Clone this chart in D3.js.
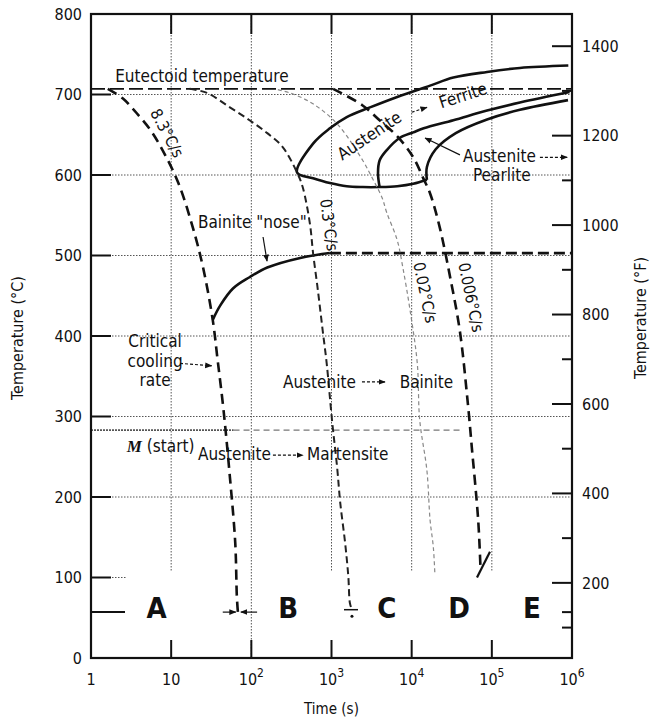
<!DOCTYPE html>
<html>
<head>
<meta charset="utf-8">
<script src="https://cdn.jsdelivr.net/npm/d3@7"></script>
<style>
  body { margin: 0; background: #fff; }
  svg text { font-family: "DejaVu Sans Condensed", "DejaVu Sans", sans-serif; font-stretch: condensed; fill: #111; }
</style>
</head>
<body>
<svg id="chart" width="653" height="722"></svg>
<script>
// ------------------- Data -------------------
// every curve is a list of [time (s), temperature (°C)]
const eutectoidTemp = 707;
const martensiteStart = 283;
const bainiteTemp = 503;

const ferriteUpper = [[900000, 736], [223900, 733], [87100, 728], [33110, 721], [16980, 711], [6607, 697],
  [3020, 684], [1549, 672], [955, 658], [589, 639], [372, 603]];
const ferriteLower = [[372, 603], [589, 596], [955, 590], [1549, 586], [2455, 585], [3981, 585],
  [6607, 586], [10470, 589], [15490, 594]];
const ferriteMiddle = [[3981, 585], [3802, 602], [3981, 618], [4898, 631], [7079, 646], [10470, 653],
  [14125, 658], [33110, 668], [87100, 680], [223900, 690], [933000, 703]];
const pearlite = [[15490, 594], [15490, 610], [19950, 632], [35500, 652], [87100, 669], [223900, 681], [891000, 693]];
const bainiteNose = [[33, 420], [41, 438], [59, 459], [95, 473], [158, 485], [407, 497], [955, 503]];

const cool83 = [[1.62, 707], [2.5, 695], [3.7, 677], [5.5, 656], [7.8, 631], [12.3, 590], [18.6, 535],
  [25, 485], [33, 420], [38, 370], [45, 308], [54, 225], [63, 143], [66, 76], [68, 57]];
const cool03 = [[17, 707], [28, 702], [54, 684], [95, 668], [158, 652], [245, 635], [372, 603], [437, 585],
  [537, 540], [589, 503], [676, 457], [776, 407], [871, 366], [1023, 292], [1175, 237], [1288, 192],
  [1479, 143], [1622, 101], [1698, 68], [1800, 60]];
const cool002 = [[214, 706], [302, 702], [490, 693], [776, 680], [1288, 659], [2455, 618], [3311, 594],
  [4266, 572], [4898, 553], [6607, 519], [7762, 485], [9550, 432], [11750, 366], [12590, 296],
  [15490, 233], [16980, 171], [18620, 138], [19500, 103]];
const cool0006 = [[1047, 707], [2399, 687], [3981, 668], [6761, 647], [10470, 622], [13800, 597],
  [16980, 577], [22390, 535], [30200, 473], [39810, 407], [50120, 317], [56230, 262], [67610, 171],
  [72000, 115]];

const timeTicks = [1, 10, 1e2, 1e3, 1e4, 1e5, 1e6];
const timeTickLabels = ["1", "10", "10^2", "10^3", "10^4", "10^5", "10^6"];
const celsiusTicks = [0, 100, 200, 300, 400, 500, 600, 700, 800];
const fahrenheitTicks = [200, 400, 600, 800, 1000, 1200, 1400];
const fahrenheitMinor = [100, 300, 500, 700, 900, 1100, 1300];
const letterLevel = 57;

const regionLetters = ["A", "B", "C", "D", "E"];
const regionTimes = [6.6, 288, 4900, 38900, 316000];

// ------------------- Setup -------------------
const W = 653, H = 722;
const margin = {top: 14, right: 81, bottom: 64, left: 91};
const svg = d3.select("#chart");

const x = d3.scaleLog().domain([1, 1e6]).range([margin.left, W - margin.right]);
const y = d3.scaleLinear().domain([0, 800]).range([H - margin.bottom, margin.top]);
const yF = d3.scaleLinear().domain([32, 800 * 9 / 5 + 32]).range(y.range());

const line = d3.line()
  .x(d => x(d[0]))
  .y(d => y(d[1]))
  .curve(d3.curveCatmullRom.alpha(0.5));

const defs = svg.append("defs");
defs.append("marker")
  .attr("id", "head")
  .attr("viewBox", "0 0 10 10")
  .attr("refX", 9).attr("refY", 5)
  .attr("markerWidth", 6).attr("markerHeight", 6)
  .attr("orient", "auto")
  .append("path")
    .attr("d", "M0,1 L10,5 L0,9 Z")
    .attr("fill", "#111");

// ------------------- Grid -------------------
const grid = svg.append("g")
  .attr("stroke", "#555")
  .attr("stroke-width", 1)
  .attr("stroke-dasharray", "1.5,1.5");

grid.selectAll("line.v")
  .data(timeTicks.slice(1, -1))
  .join("line")
    .attr("class", "v")
    .attr("x1", d => x(d)).attr("x2", d => x(d))
    .attr("y1", y(800))
    .attr("y2", d => d === 100 ? y(0) : y(107));

grid.selectAll("line.h")
  .data(celsiusTicks.slice(2, -1))
  .join("line")
    .attr("class", "h")
    .attr("x1", x(1)).attr("x2", x(1e6))
    .attr("y1", d => y(d)).attr("y2", d => y(d));

grid.append("line")
  .attr("x1", x(1)).attr("x2", x(2.7))
  .attr("y1", y(100)).attr("y2", y(100));

// ------------------- Reference lines -------------------
svg.append("line")
  .attr("x1", x(1)).attr("x2", x(1e6))
  .attr("y1", y(eutectoidTemp)).attr("y2", y(eutectoidTemp))
  .attr("stroke", "#111").attr("stroke-width", 1.8)
  .attr("stroke-dasharray", "14,5");

svg.append("line")
  .attr("x1", x(1)).attr("x2", x(60))
  .attr("y1", y(martensiteStart)).attr("y2", y(martensiteStart))
  .attr("stroke", "#555").attr("stroke-width", 1.8)
  .attr("stroke-dasharray", "2,1");
svg.append("line")
  .attr("x1", x(60)).attr("x2", x(40000))
  .attr("y1", y(martensiteStart)).attr("y2", y(martensiteStart))
  .attr("stroke", "#777").attr("stroke-width", 1.3)
  .attr("stroke-dasharray", "6,4");

// ------------------- Transformation curves -------------------
const solid = svg.append("g")
  .attr("fill", "none")
  .attr("stroke", "#111")
  .attr("stroke-width", 2.6)
  .attr("stroke-linejoin", "round");

solid.append("path").attr("d", line(ferriteUpper.concat(ferriteLower.slice(1))));
solid.append("path").attr("d", line(ferriteMiddle));
solid.append("path").attr("d", line(pearlite));
solid.append("path").attr("d", line(bainiteNose));

svg.append("line")
  .attr("x1", x(955)).attr("x2", x(1e6))
  .attr("y1", y(bainiteTemp)).attr("y2", y(bainiteTemp))
  .attr("stroke", "#111").attr("stroke-width", 2.8)
  .attr("stroke-dasharray", "11,5");

// ------------------- Cooling curves -------------------
const cooling = [
  {data: cool83, color: "#111", width: 2.6, dash: "10,6"},
  {data: cool03, color: "#222", width: 2, dash: "7,4"},
  {data: cool002, color: "#888", width: 1.2, dash: "4,3"},
  {data: cool0006, color: "#111", width: 2.6, dash: "10,6"}
];

svg.append("g")
  .attr("fill", "none")
  .selectAll("path")
  .data(cooling)
  .join("path")
    .attr("d", d => line(d.data))
    .attr("stroke", d => d.color)
    .attr("stroke-width", d => d.width)
    .attr("stroke-dasharray", d => d.dash);

// end marks of the cooling curves
function arrow(p0, p1, dash) {
  svg.append("line")
    .attr("x1", x(p0[0])).attr("y1", y(p0[1]))
    .attr("x2", x(p1[0])).attr("y2", y(p1[1]))
    .attr("stroke", "#111").attr("stroke-width", 1.2)
    .attr("stroke-dasharray", dash || null)
    .attr("marker-end", "url(#head)");
}

arrow([44, letterLevel], [64, letterLevel]);
arrow([118, letterLevel], [74, letterLevel]);
svg.append("line")
  .attr("x1", x(1432)).attr("x2", x(2140))
  .attr("y1", y(60)).attr("y2", y(60))
  .attr("stroke", "#111").attr("stroke-width", 1.5);
svg.append("circle")
  .attr("cx", x(1800)).attr("cy", y(52)).attr("r", 1.5).attr("fill", "#111");
svg.append("line")
  .attr("x1", x(65300)).attr("y1", y(100))
  .attr("x2", x(94800)).attr("y2", y(132))
  .attr("stroke", "#111").attr("stroke-width", 2.2);

// ------------------- Frame & ticks -------------------
svg.append("rect")
  .attr("x", x(1)).attr("y", y(800))
  .attr("width", x(1e6) - x(1)).attr("height", y(0) - y(800))
  .attr("fill", "none").attr("stroke", "#111").attr("stroke-width", 2.2);

const ticks = svg.append("g").attr("stroke", "#111").attr("stroke-width", 2);

ticks.selectAll("line.top")
  .data(timeTicks.slice(1, -1))
  .join("line").attr("class", "top")
    .attr("x1", d => x(d)).attr("x2", d => x(d))
    .attr("y1", y(800)).attr("y2", y(800) + 20);

ticks.selectAll("line.bottom")
  .data(timeTicks.slice(1, -1))
  .join("line").attr("class", "bottom")
    .attr("x1", d => x(d)).attr("x2", d => x(d))
    .attr("y1", y(0)).attr("y2", y(0) - 18);

ticks.selectAll("line.left")
  .data(celsiusTicks.slice(1, -1))
  .join("line").attr("class", "left")
    .attr("x1", x(1)).attr("x2", x(1) + 20)
    .attr("y1", d => y(d)).attr("y2", d => y(d));

ticks.selectAll("line.right")
  .data(fahrenheitTicks)
  .join("line").attr("class", "right")
    .attr("x1", x(1e6)).attr("x2", x(1e6) - 20)
    .attr("y1", d => yF(d)).attr("y2", d => yF(d));

ticks.selectAll("line.rightMinor")
  .data(fahrenheitMinor)
  .join("line").attr("class", "rightMinor")
    .attr("x1", x(1e6)).attr("x2", x(1e6) - 10)
    .attr("y1", d => yF(d)).attr("y2", d => yF(d));

ticks.append("line")
  .attr("x1", x(1)).attr("x2", x(1) + 34)
  .attr("y1", y(letterLevel)).attr("y2", y(letterLevel));
ticks.append("line")
  .attr("x1", x(1e6)).attr("x2", x(1e6) - 10)
  .attr("y1", y(letterLevel)).attr("y2", y(letterLevel));

// ------------------- Tick labels -------------------
svg.append("g")
  .selectAll("text")
  .data(celsiusTicks)
  .join("text")
    .attr("x", x(1) - 9)
    .attr("y", d => y(d))
    .attr("dy", "0.36em")
    .attr("text-anchor", "end")
    .attr("font-size", 16)
    .text(d => d);

svg.append("g")
  .selectAll("text")
  .data(fahrenheitTicks)
  .join("text")
    .attr("x", x(1e6) + 10)
    .attr("y", d => yF(d))
    .attr("dy", "0.36em")
    .attr("font-size", 16)
    .text(d => d);

const xLabels = svg.append("g")
  .selectAll("text")
  .data(timeTicks)
  .join("text")
    .attr("x", d => x(d))
    .attr("y", y(0) + 27)
    .attr("text-anchor", "middle")
    .attr("font-size", 16);

xLabels.each(function(d, i) {
  const parts = timeTickLabels[i].split("^");
  const t = d3.select(this);
  t.append("tspan").text(parts[0]);
  if (parts[1]) {
    t.append("tspan").attr("dy", -8).attr("font-size", 12).text(parts[1]);
  }
});

// ------------------- Axis titles -------------------
svg.append("text")
  .attr("x", (x(1) + x(1e6)) / 2)
  .attr("y", 714)
  .attr("text-anchor", "middle")
  .attr("font-size", 15)
  .text("Time (s)");

svg.append("text")
  .attr("transform", "translate(17, 338) rotate(-90)")
  .attr("dy", "0.35em")
  .attr("text-anchor", "middle")
  .attr("font-size", 16)
  .text("Temperature (°C)");

svg.append("text")
  .attr("transform", "translate(640, 318) rotate(-90)")
  .attr("dy", "0.35em")
  .attr("text-anchor", "middle")
  .attr("font-size", 16)
  .text("Temperature (°F)");

// ------------------- Annotations -------------------
function label(t, T, str, opts = {}) {
  const el = svg.append("text")
    .attr("font-size", opts.size || 17)
    .attr("text-anchor", opts.anchor || "start")
    .text(str);
  if (opts.rotate !== undefined) {
    el.attr("transform", `translate(${x(t)}, ${y(T)}) rotate(${opts.rotate})`)
      .attr("dy", "0.35em");
  } else {
    el.attr("x", x(t)).attr("y", y(T));
  }
  return el;
}

label(2.0, 716, "Eutectoid temperature");
label(8.9, 652, "8.3°C/s", {rotate: 62, anchor: "middle", size: 16});
label(21.6, 534, "Bainite \"nose\"");
arrow([140, 523], [157, 493]);

label(6.3, 386, "Critical", {anchor: "middle"});
label(6.3, 362, "cooling", {anchor: "middle"});
label(6.3, 338, "rate", {anchor: "middle"});
arrow([12.9, 366], [32, 363], "3,2");

const mLabel = svg.append("text")
  .attr("x", x(2.8)).attr("y", y(256))
  .attr("font-size", 17);
mLabel.append("tspan")
  .attr("font-family", "Liberation Serif, serif")
  .attr("font-style", "italic")
  .attr("font-weight", "bold")
  .text("M");
mLabel.append("tspan").text(" (start)");

label(21.6, 246, "Austenite");
arrow([186, 252], [441, 252], "3,2");
label(494, 246, "Martensite");

label(248, 336, "Austenite");
arrow([2400, 343], [4650, 343], "3,2");
label(7100, 336, "Bainite");

label(2950, 649, "Austenite", {rotate: -34, anchor: "middle"});
arrow([10000, 678], [15500, 684], "3,2");
label(43600, 699, "Ferrite", {rotate: -18, anchor: "middle"});

label(43600, 616, "Austenite");
arrow([398000, 622], [870000, 622], "3,2");
label(58200, 593, "Pearlite");
arrow([40000, 625], [14700, 646]);

label(933, 538, "0.3°C/s", {rotate: 82, anchor: "middle", size: 16});
label(14700, 454, "0.02°C/s", {rotate: 78, anchor: "middle", size: 16});
label(55000, 448, "0.006°C/s", {rotate: 78, anchor: "middle", size: 16});

svg.append("g")
  .selectAll("text")
  .data(regionLetters)
  .join("text")
    .attr("x", (d, i) => x(regionTimes[i]))
    .attr("y", y(50))
    .attr("text-anchor", "middle")
    .attr("font-family", "Liberation Serif, serif")
    .attr("font-weight", "bold")
    .attr("font-size", 29)
    .text(d => d);
</script>
</body>
</html>
